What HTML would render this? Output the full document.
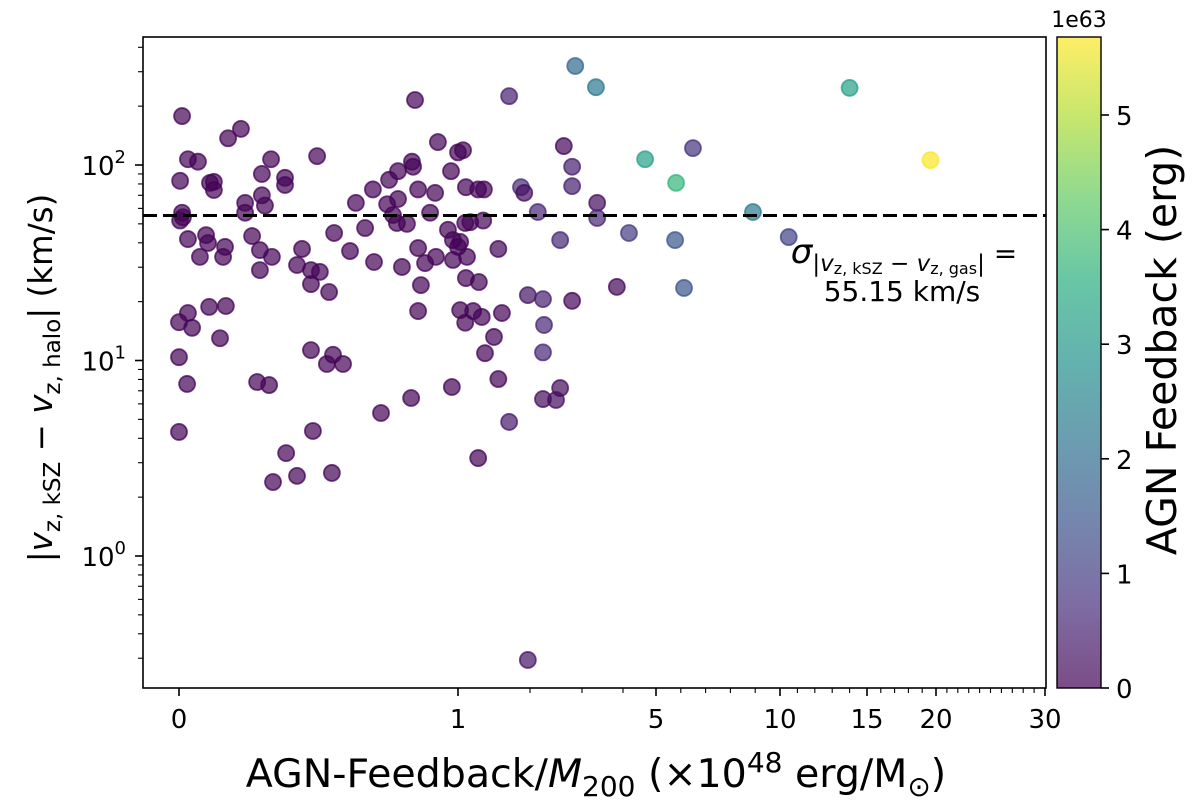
<!DOCTYPE html>
<html><head><meta charset="utf-8"><style>
html,body{margin:0;padding:0;background:#fff;}
svg{display:block;font-family:"DejaVu Sans","Liberation Sans",sans-serif;}
</style></head><body>
<svg id="chart" width="1200" height="805" viewBox="0 0 1200 805">
<defs>
<linearGradient id="viridis" x1="0" y1="1" x2="0" y2="0">
<stop offset="0" stop-color="#440154"/><stop offset="0.125" stop-color="#472d7b"/>
<stop offset="0.25" stop-color="#3b528b"/><stop offset="0.375" stop-color="#2c728e"/>
<stop offset="0.5" stop-color="#21918c"/><stop offset="0.625" stop-color="#28ae80"/>
<stop offset="0.75" stop-color="#5ec962"/><stop offset="0.875" stop-color="#addc30"/>
<stop offset="1" stop-color="#fde725"/>
</linearGradient>
</defs>
<g id="marks"></g>
<line id="sigma" stroke="#000" stroke-width="3" stroke-dasharray="14,6"/>
<rect x="143" y="37" width="903" height="651" fill="none" stroke="#000" stroke-width="1.6"/>
<g id="axes"></g>
<text x="904" y="263" font-size="28" text-anchor="middle"><tspan font-style="italic" font-size="34">σ</tspan><tspan font-size="23" dy="8">|<tspan font-style="italic">v</tspan><tspan font-size="16" dy="3">z, kSZ</tspan><tspan dy="-3"> − </tspan><tspan font-style="italic">v</tspan><tspan font-size="16" dy="3">z, gas</tspan><tspan dy="-3">|</tspan></tspan><tspan dy="-8"> =</tspan></text>
<text x="902" y="301" font-size="28" text-anchor="middle">55.15 km/s</text>
<rect x="1057" y="37" width="44" height="651" fill="url(#viridis)" fill-opacity="0.7" stroke="#000" stroke-width="1.4"/>
<text x="1079" y="27" font-size="22" text-anchor="middle">1e63</text>
<text transform="translate(1176,350) rotate(-90)" font-size="41" text-anchor="middle">AGN Feedback (erg)</text>
<text x="596" y="787" font-size="39.5" text-anchor="middle">AGN-Feedback/<tspan font-style="italic">M</tspan><tspan font-size="28" dy="9">200</tspan><tspan dy="-9"> (×10</tspan><tspan font-size="28" dy="-15">48</tspan><tspan dy="15"> erg/M</tspan><tspan font-size="28" dy="9">⊙</tspan><tspan dy="-9">)</tspan></text>
<text transform="translate(52,378) rotate(-90)" font-size="32.5" text-anchor="middle">|<tspan font-style="italic">v</tspan><tspan font-size="23" dy="8">z, kSZ</tspan><tspan dy="-8"> − </tspan><tspan font-style="italic">v</tspan><tspan font-size="23" dy="8">z, halo</tspan><tspan dy="-8">| (km/s)</tspan></text>
</svg>
<script>
const xVals=[.011,.176,.222,.032,.068,.33,.495,.846,1.71,.928,1.0,1.07,2.65,2.81,2.81,.004,.111,.125,.125,.297,.38,.38,.753,.785,.835,.839,.695,.857,.918,.975,1.11,1.28,1.36,1.875,1.92,.297,.308,.237,.237,.634,.746,.785,2.15,.9,.011,.004,.014,.767,.781,.817,1.17,1.35,1.1,.667,.964,.032,.097,.104,.165,.158,.075,.262,.29,.333,.29,.441,.423,.473,.505,.473,.538,.556,.613,.699,.799,.857,.882,.921,.982,1.03,1.0,.982,1.125,.867,1.11,1.29,1.56,2.58,1.97,2.25,2.81,2.27,2.25,.857,1.03,1.21,1.1,1.33,1.61,1.5,1.375,1.56,.978,.832,.724,1.71,2.25,2.5,2.58,1.28,.032,0,.047,.108,.168,.147,0,.029,.28,.323,.473,.552,.53,.588,0,.48,.384,.423,.548,.337,1.97,2.87,3.34,14.0,4.67,6.49,19.6,5.81,3.37,3.37,8.91,4.18,5.77,10.5,3.85,6.13];
const yVals=[178,137,153,107,104,107,111,215,225,131,116,119,125,98,78,83,81,82,74.5,90,86,79,84,93,104,98,75,75,72,93,77,75,75,77,72,70,62,64,57,64,63,67,57.5,57,57,52,54,55.5,50.5,50,51,52,50.5,47.6,46.6,41.8,43.8,39.9,38.1,33.9,33.9,43.3,36.7,33.9,29,37.2,30.8,29,28.4,24.6,22.4,44.9,36.3,31.9,30.1,37.6,31.5,33.9,41.3,40.4,38.1,32.7,33.9,24.3,26.4,25.2,37.2,41.3,21.6,20.6,20.2,15.2,11.0,17.9,18.1,17.9,15.6,16.7,17.5,13.2,10.9,8.04,7.32,6.43,5.39,4.85,6.35,6.28,7.23,3.17,17.5,15.7,14.7,18.8,19.0,13.0,10.4,7.59,7.76,7.49,11.3,10.7,9.6,9.6,4.31,4.36,3.36,2.57,2.66,2.39,0.294,321,250,248,107,122,106,81,64,53.6,57.5,44.9,41.3,42.8,23.8,23.5];
const cVals=[0.05,0.05,0.05,0.05,0.05,0.05,0.05,0.05,0.5,0.05,0.05,0.05,0.1,0.5,0.5,0.05,0.05,0.05,0.05,0.05,0.05,0.05,0.05,0.05,0.05,0.05,0.05,0.05,0.05,0.05,0.05,0.05,0.05,0.7,0.2,0.05,0.05,0.05,0.05,0.05,0.05,0.05,0.6,0.05,0.05,0.05,0.05,0.05,0.05,0.05,0.05,0.05,0.05,0.05,0.05,0.05,0.05,0.05,0.05,0.05,0.05,0.05,0.05,0.05,0.05,0.05,0.05,0.05,0.05,0.05,0.05,0.05,0.05,0.05,0.05,0.05,0.05,0.05,0.05,0.05,0.05,0.05,0.05,0.05,0.05,0.05,0.1,0.6,0.3,0.5,0.1,0.6,0.6,0.05,0.05,0.05,0.05,0.05,0.05,0.05,0.05,0.05,0.05,0.05,0.05,0.4,0.2,0.2,0.2,0.05,0.05,0.05,0.05,0.05,0.05,0.05,0.05,0.05,0.05,0.05,0.05,0.05,0.05,0.05,0.05,0.05,0.05,0.05,0.05,0.05,0.3,1.9,2.3,3.2,3.2,0.8,5.65,3.7,0.2,0.6,2.3,1.0,1.5,1.1,0.1,1.5];
const sigmaValue=[55.15];
const xTickVals=[0,1,5,10,15,20,30];
const xTickLabels=["0","1","5","10","15","20","30"];
const yTickExp=[0,1,2];
const cTickVals=[0,1,2,3,4,5];

const xKnots=[[0,179],[1,458],[2,530],[3,582],[4,623],[5,656],[10,780],[15,867],[20,936],[30,1045]];
function xScale(v){
  for(let i=0;i<xKnots.length-1;i++){const a=xKnots[i],b=xKnots[i+1];
    if(v<=b[0]||i===xKnots.length-2){return a[1]+(v-a[0])/(b[0]-a[0])*(b[1]-a[1]);}}
}
function yScale(v){return 556-Math.log10(v)*195.5;}
const cMax=5.68;
function cScale(v){return 688-v*114.6;}
const vir=[[68,1,84],[71,45,123],[59,82,139],[44,114,142],[33,145,140],[40,174,128],[94,201,98],[173,220,48],[253,231,37]];
function cmap(v){let t=Math.max(0,Math.min(1,v/cMax))*8;let i=Math.min(7,Math.floor(t));let f=t-i;
  const a=vir[i],b=vir[i+1];return 'rgb('+a.map((c,k)=>Math.round(c+(b[k]-c)*f)).join(',')+')';}
const NS='http://www.w3.org/2000/svg';
function mk(tag,attrs,parent){const e=document.createElementNS(NS,tag);for(const k in attrs)e.setAttribute(k,attrs[k]);parent.appendChild(e);return e;}
const marks=document.getElementById('marks');
for(let i=0;i<xVals.length;i++){
  const col=cmap(cVals[i]);
  const c=mk('circle',{cx:xScale(xVals[i]),cy:yScale(yVals[i]),r:8,fill:col,'fill-opacity':0.7,stroke:col,'stroke-opacity':0.75,'stroke-width':1.8},marks);
  
  
}
const sl=document.getElementById('sigma');
sl.setAttribute('x1',143);sl.setAttribute('x2',1046);
sl.setAttribute('y1',yScale(sigmaValue[0]));sl.setAttribute('y2',yScale(sigmaValue[0]));
const axes=document.getElementById('axes');
xTickVals.forEach((v,i)=>{const x=xScale(v);
  const t=mk('line',{x1:x,x2:x,y1:688,y2:696,stroke:'#000','stroke-width':1.6},axes);
  
  
  const l=mk('text',{x:x,y:728,'font-size':26,'text-anchor':'middle'},axes);l.textContent=xTickLabels[i];
  
  
});
const xMinor=[2,3,4,6,7,8,9,11,12,13,14,16,17,18,19,21,22,23,24,25,26,27,28,29];
xMinor.forEach(v=>{const x=xScale(v);const t=mk('line',{x1:x,x2:x,y1:688,y2:693,stroke:'#000','stroke-width':1.1},axes);
  
  });
yTickExp.forEach(e=>{const y=yScale(Math.pow(10,e));
  const t=mk('line',{x1:135,x2:143,y1:y,y2:y,stroke:'#000','stroke-width':1.6},axes);
  
  
  const l=mk('text',{x:126,y:y+10,'font-size':26,'text-anchor':'end'},axes);
  
  
  l.innerHTML='10<tspan font-size="18" dy="-12">'+e+'</tspan>';
});
for(let d=-1;d<=2;d++){for(let m=2;m<=9;m++){const v=m*Math.pow(10,d);const y=yScale(v);
  if(y<37||y>688)continue;
  const t=mk('line',{x1:138,x2:143,y1:y,y2:y,stroke:'#000','stroke-width':1.1},axes);
  
  }}
cTickVals.forEach(v=>{const y=cScale(v);
  const t=mk('line',{x1:1101,x2:1109,y1:y,y2:y,stroke:'#000','stroke-width':1.6},axes);
  
  
  const l=mk('text',{x:1116,y:y+10,'font-size':26},axes);l.textContent=String(v);
  
  
});
</script>
</body></html>
